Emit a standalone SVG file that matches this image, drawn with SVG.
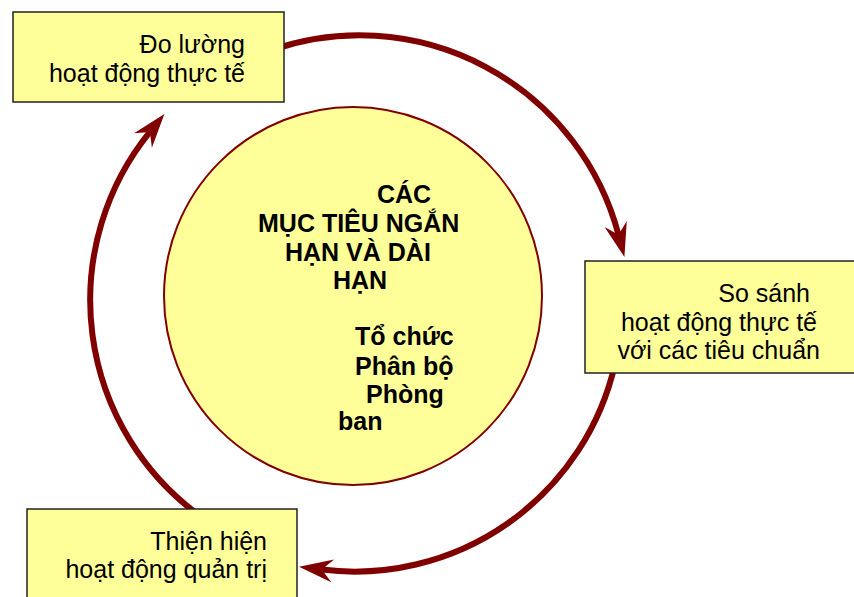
<svg xmlns="http://www.w3.org/2000/svg" width="854" height="597" viewBox="0 0 854 597">
<style>
.box{fill:#FFFF99;stroke:#222;stroke-width:1.5}
.t{font-family:"Liberation Sans",Arial,sans-serif;font-size:25px;fill:#000}
.b{font-family:"Liberation Sans",Arial,sans-serif;font-size:25px;font-weight:bold;fill:#000}
.arc{fill:none;stroke:#800000;stroke-width:6}
</style>
<defs>
<marker id="ah" markerUnits="userSpaceOnUse" viewBox="-12 -13 38 26" refX="0" refY="0" markerWidth="38" markerHeight="26" orient="auto">
<path d="M23,0 L-11,-11.5 L0,0 L-11,11.5 Z" fill="#800000"/>
</marker>
</defs>
<rect width="854" height="597" fill="#fff"/>
<g id="center">
<circle cx="353" cy="296" r="189" fill="#FFFF99" stroke="#800000" stroke-width="2"/>
<text class="b" x="377" y="203">CÁC</text>
<text class="b" x="258" y="232">MỤC TIÊU NGẮN</text>
<text class="b" x="285" y="261">HẠN VÀ DÀI</text>
<text class="b" x="333" y="289">HẠN</text>
<text class="b" x="355" y="345">Tổ chức</text>
<text class="b" x="355" y="375">Phân bộ</text>
<text class="b" x="366" y="403">Phòng</text>
<text class="b" x="338" y="430">ban</text>
</g>
<g id="connectors">
<path class="arc" d="M272,50 A268,268 0 0 1 618.5,234.7" marker-end="url(#ah)"/>
<path class="arc" d="M615,364 A267,267 0 0 1 321.8,569.6" marker-end="url(#ah)"/>
<path class="arc" d="M200,516 A267,267 0 0 1 149.9,131.9" marker-end="url(#ah)"/>
</g>
<g id="measure">
<rect class="box" x="13" y="12" width="271" height="90"/>
<text class="t" x="245" y="53" text-anchor="end">Đo lường</text>
<text class="t" x="245" y="82" text-anchor="end">hoạt động thực tế</text>
</g>
<g id="compare">
<rect class="box" x="585" y="261" width="275" height="112"/>
<text class="t" x="810" y="302" text-anchor="end">So sánh</text>
<text class="t" x="817" y="331" text-anchor="end">hoạt động thực tế</text>
<text class="t" x="820" y="359" text-anchor="end">với các tiêu chuẩn</text>
</g>
<g id="act">
<rect class="box" x="27" y="509" width="270" height="100"/>
<text class="t" x="267" y="550" text-anchor="end">Thiện hiện</text>
<text class="t" x="267" y="578" text-anchor="end">hoạt động quản trị</text>
</g>
</svg>
